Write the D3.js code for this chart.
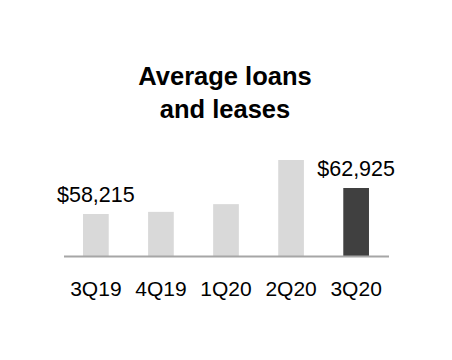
<!DOCTYPE html>
<html>
<head>
<meta charset="utf-8">
<script src="https://cdn.jsdelivr.net/npm/d3@7"></script>
<style>
  body { margin: 0; background: #fff; }
  text { font-family: "Liberation Sans", Arial, sans-serif; fill: #000; }
</style>
</head>
<body>
<script>
"use strict";

var quarters = ["3Q19", "4Q19", "1Q20", "2Q20", "3Q20"];
var loans = [58215, 58600, 60000, 68000, 62925];
var labelled = ["3Q19", "3Q20"];
var titleLines = ["Average loans", "and leases"];

var width = 452;
var height = 360;
var baseY = 256;

var svg = d3.select("body").append("svg")
	.attr("width", width)
	.attr("height", height);

var xScale = d3.scaleBand()
	.domain(quarters)
	.range([63.5, 388.5])
	.paddingInner(0.605)
	.paddingOuter(0.3);

var yScale = d3.scaleLinear()
	.domain([50600, 68000])
	.range([baseY, 160]);

// title
svg.append("g").selectAll("text")
	.data(titleLines)
	.enter()
	.append("text")
	.attr("x", 225)
	.attr("y", function(d, i) { return 85 + i * 33; })
	.attr("text-anchor", "middle")
	.style("font-size", "25.5px")
	.style("font-weight", "bold")
	.text(function(d) { return d; });

// bars
svg.append("g").selectAll("rect")
	.data(quarters)
	.enter()
	.append("rect")
	.attr("x", function(d) { return xScale(d); })
	.attr("width", xScale.bandwidth())
	.attr("y", function(d, i) { return yScale(loans[i]); })
	.attr("height", function(d, i) { return baseY - yScale(loans[i]); })
	.attr("fill", function(d, i) { return i === quarters.length - 1 ? "#404040" : "#d9d9d9"; });

// value labels
svg.append("g").selectAll("text")
	.data(quarters.filter(function(d) { return labelled.indexOf(d) >= 0; }))
	.enter()
	.append("text")
	.attr("x", function(d) { return xScale(d) + xScale.bandwidth() / 2; })
	.attr("y", function(d) { return yScale(loans[quarters.indexOf(d)]) - 12; })
	.attr("text-anchor", "middle")
	.style("font-size", "21.5px")
	.text(function(d) { return "$" + d3.format(",")(loans[quarters.indexOf(d)]); });

// axis
var xAxis = svg.append("g")
	.attr("transform", "translate(0," + baseY + ")")
	.call(d3.axisBottom(xScale).tickSize(0).tickPadding(40));
xAxis.select(".domain").attr("stroke", "#a6a6a6").attr("stroke-width", 2);
xAxis.selectAll("text")
	.attr("dy", 0)
	.style("font-size", "21px")
	.style("font-family", "'Liberation Sans', Arial, sans-serif")
	.attr("fill", "#000");
xAxis.attr("font-size", null);
</script>
</body>
</html>
